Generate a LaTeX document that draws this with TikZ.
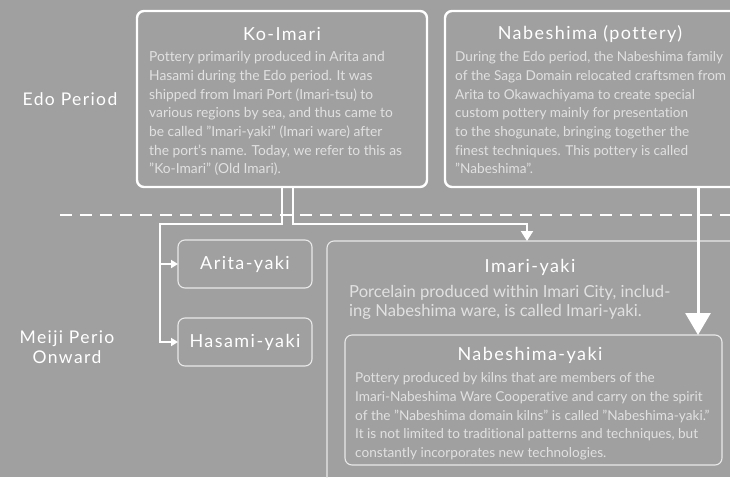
\documentclass[tikz,border=0pt]{standalone}
\usepackage{fontspec}
\setmainfont{Lato}[Ligatures={TeX,NoCommon}]
\newfontfamily\ttlfont[LetterSpace=8,Ligatures={TeX,NoCommon}]{Lato}
\usetikzlibrary{arrows.meta}
\definecolor{bgc}{RGB}{159,160,159}
\definecolor{bodyc}{RGB}{224,225,224}
\definecolor{thinc}{RGB}{232,233,232}
\begin{document}
\begin{tikzpicture}[x=1pt,y=-1pt,
  bigbox/.style={draw=white,line width=2.4pt,rounded corners=7pt,inner sep=0pt,outer sep=0pt},
  thinbox/.style={draw=thinc,line width=1.1pt,rounded corners=7pt,inner sep=0pt,outer sep=0pt},
  ttl/.style={text=white,inner sep=0pt,font=\ttlfont\fontsize{18}{20}\selectfont},
  body/.style={text=bodyc,inner sep=0pt,anchor=north west,align=left,font=\fontsize{13.8}{18.67}\selectfont},
  side/.style={text=white,inner sep=0pt,align=center,font=\ttlfont\fontsize{17.5}{20}\selectfont},
  conn/.style={draw=white,line width=2pt},
  sepline/.style={draw=white,line width=1.1pt,dash pattern=on 12pt off 8pt},
  bigarrow/.style={draw=white,line width=3pt,-{Triangle[width=25pt,length=22pt]}},
  smalltip/.style={-{Triangle[width=8pt,length=7pt]}},
  midtip/.style={-{Triangle[width=12pt,length=10pt]}}]
\useasboundingbox (0,0) rectangle (730,477);
\clip (0,0) rectangle (730,477);
\fill[bgc] (0,0) rectangle (730,477);

% separator
\coordinate (sepL) at (60,215);
\coordinate (sepR) at (740,215);
\draw[sepline] (sepL) -- (sepR);

% boxes
\node[bigbox,minimum width=290pt,minimum height=176pt] (koimari) at (282,99) {};
\node[bigbox,minimum width=315pt,minimum height=176pt] (nabe) at (602.5,99) {};
\node[thinbox,minimum width=134pt,minimum height=48pt] (arita) at (245,264) {};
\node[thinbox,minimum width=134pt,minimum height=48pt] (hasami) at (245,342) {};
\node[thinbox,minimum width=433pt,minimum height=259pt] (imari) at (543.5,370.5) {};
\node[thinbox,minimum width=377pt,minimum height=130pt] (nabeyaki) at (533.5,400) {};

% side labels
\node[side] (edo) at (70,99) {Edo Period};
\node[side] (meiji) at (67,347) {Meiji Perio\\Onward};

% titles
\node[ttl] (t1) at (282,34) {Ko-Imari};
\node[ttl] (t2) at (590,34) {Nabeshima (pottery)};
\node[ttl] (t3) at (245,264) {Arita-yaki};
\node[ttl] (t4) at (245,342) {Hasami-yaki};
\node[ttl] (t5) at (530,267) {Imari-yaki};
\node[ttl] (t6) at (530,355) {Nabeshima-yaki};

% bodies
\node[body] (b1) at (149,51.5) {Pottery primarily produced in Arita and\\
Hasami during the Edo period. It was\\
shipped from Imari Port (Imari-tsu) to\\
various regions by sea, and thus came to\\
be called "Imari-yaki" (Imari ware) after\\
the port's name. Today, we refer to this as\\
"Ko-Imari" (Old Imari).};
\node[body,font=\fontsize{13.6}{18.67}\selectfont] (b2) at (455,51.5) {During the Edo period, the Nabeshima family\\
of the Saga Domain relocated craftsmen from\\
Arita to Okawachiyama to create special\\
custom pottery mainly for presentation\\
to the shogunate, bringing together the\\
finest techniques. This pottery is called\\
"Nabeshima".};
\node[body,font=\fontsize{16.6}{19}\selectfont] (b3) at (349,285.5) {Porcelain produced within Imari City, includ-\\
ing Nabeshima ware, is called Imari-yaki.};
\node[body,font=\fontsize{13.6}{18.7}\selectfont] (b4) at (355,372.5) {Pottery produced by kilns that are members of the\\
Imari-Nabeshima Ware Cooperative and carry on the spirit\\
of the "Nabeshima domain kilns" is called "Nabeshima-yaki."\\
It is not limited to traditional patterns and techniques, but\\
constantly incorporates new technologies.};

% connectors
\coordinate (jL) at (282,224);
\coordinate (jR) at (293,224);
\coordinate (jV) at (160,224);
\coordinate (jI) at (527,224);
\coordinate (jN) at (698,200);
\draw[conn,smalltip] (koimari.south -| jL) -- (jL) -- (jV) |- (hasami.west);
\draw[conn,smalltip] (jV |- arita.west) -- (arita.west);
\draw[conn,midtip] (koimari.south -| jR) -- (jR) -- (jI) -- (jI |- imari.north);
\draw[bigarrow] (nabe.south -| jN) -- (jN |- nabeyaki.north);
\end{tikzpicture}
\end{document}
